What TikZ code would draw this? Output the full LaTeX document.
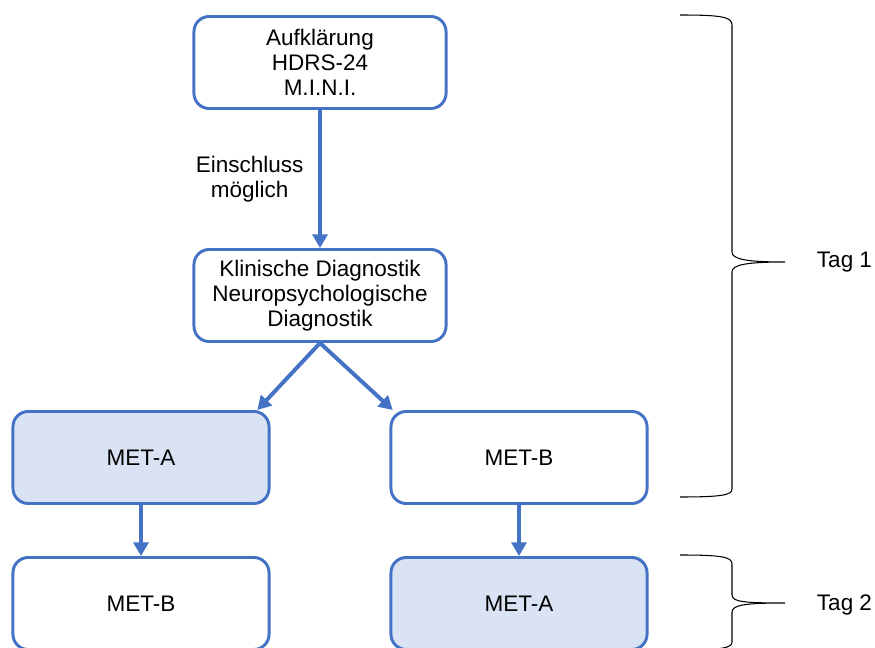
\documentclass[tikz,border=0pt]{standalone}
\usepackage{fontspec}
\setmainfont{Liberation Sans}
\usetikzlibrary{arrows.meta}
\definecolor{boxblue}{HTML}{4472C4}
\definecolor{boxfill}{HTML}{DAE3F3}

\begin{document}
\begin{tikzpicture}
[x=0.025cm, y=-0.025cm, font=\fontsize{16}{18}\selectfont,
step0/.style={rectangle, rounded corners=0.38cm, draw=boxblue, line width=2.1pt, align=center, inner sep=2pt, minimum width=6.3cm, minimum height=2.3cm},
met0/.style={step0, minimum width=6.4cm},
met1/.style={met0, fill=boxfill},
flow/.style={draw=boxblue, line width=2.8pt, -{Triangle[length=3.4mm, width=3.7mm]}},
brace/.style={draw=black, line width=0.75pt}]

\clip (0,0) rectangle (875,648);

\node[step0] (info) at (320,62.5) {Aufklärung\\HDRS-24\\M.I.N.I.};
\node[step0] (diag) at (320,295.5) {Klinische Diagnostik\\Neuropsychologische\\Diagnostik};

\node[met1] (metA1) at (141,457.5) {MET-A};
\node[met0] (metB1) at (519,457.5) {MET-B};
\node[met0] (metB2) at (141,603.5) {MET-B};
\node[met1] (metA2) at (519,603.5) {MET-A};

\draw[flow] (info) -- node[midway, left=0.25cm, align=center] {Einschluss\\möglich} (diag);
\draw[flow] (diag.south) -- ([xshift=-0.33cm]metA1.north east);
\draw[flow] (diag.south) -- ([xshift=0.08cm]metB1.north west);
\draw[flow] (metA1) -- (metB2);
\draw[flow] (metB1) -- (metA2);

% Tag 1
\node[anchor=west] (tag1) at (812,262) {Tag 1};
\draw[brace] (680,15) .. controls (722,15) and (732,17) .. (732,25) -- (732,252)
  .. controls (732,259) and (745,262) .. (785,262)
  .. controls (745,262) and (732,265) .. (732,272) -- (732,489)
  .. controls (732,495) and (722,497) .. (680,497);

% Tag 2
\node[anchor=west] (tag2) at (812,605) {Tag 2};
\draw[brace] (680,555) .. controls (722,555) and (732,557) .. (732,564) -- (732,595)
  .. controls (732,602) and (745,603) .. (785,603)
  .. controls (745,603) and (732,605) .. (732,612) -- (732,642)
  .. controls (732,648) and (722,650) .. (680,650);

\end{tikzpicture}
\end{document}
